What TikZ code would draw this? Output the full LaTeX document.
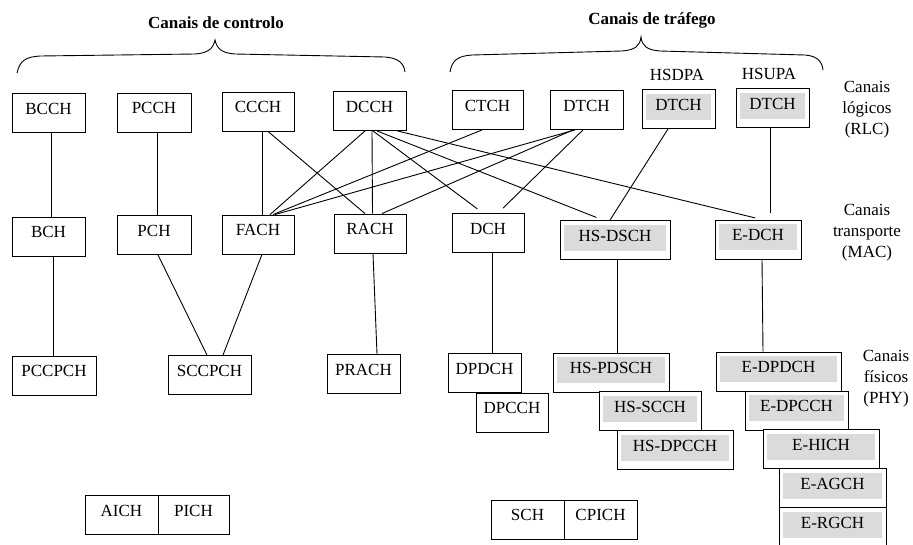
\documentclass[tikz,border=0pt]{standalone}
\usepackage{fontspec}
\setmainfont{Liberation Serif}

\begin{document}
\begin{tikzpicture}[x=1pt,y=-1pt,
    font=\fontsize{17}{21}\selectfont,
    box/.style={draw, fill=white, line width=0.9pt, inner sep=0pt, minimum height=39pt, text depth=9pt},
    shaded/.style={box, path picture={\fill[gray!28] ([xshift=4pt,yshift=9pt]path picture bounding box.south west) rectangle ([xshift=-4pt,yshift=-4pt]path picture bounding box.north east);}},
    link/.style={line width=0.9pt},
    gap/.style={link, shorten >=7pt}]
            \useasboundingbox (0,0) rectangle (913,544);

            %Shape: Brace (controlo)
            \draw [line width=0.9pt] (17,73) .. controls (20,60) and (26,57) .. (40,56) -- (195,54) .. controls (208,53) and (213,49) .. (215,40) .. controls (217,49) and (222,53) .. (235,54) -- (385,57) .. controls (398,58) and (404,63) .. (405,72) ;
            %Shape: Brace (trafego)
            \draw [line width=0.9pt] (450,72) .. controls (452,60) and (458,56) .. (472,55) -- (622,51) .. controls (635,50) and (640,46) .. (641,37) .. controls (642,46) and (647,50) .. (660,51) -- (805,55) .. controls (818,56) and (822,62) .. (823,70) ;

            % Text Node
            \node [font=\fontsize{17}{21}\selectfont\bfseries] (tctrl) at (216,23) {Canais de controlo};
            % Text Node
            \node [font=\fontsize{17}{21}\selectfont\bfseries] (ttraf) at (652,20) {Canais de tráfego};
            % Text Node
            \node (thsdpa) at (677,75) {HSDPA};
            % Text Node
            \node (thsupa) at (769,74) {HSUPA};
            % Text Node
            \node [align=center] (trlc) at (867,110) {Canais\\lógicos\\(RLC)};
            % Text Node
            \node [align=center] (tmac) at (867,233) {Canais\\transporte\\(MAC)};
            % Text Node
            \node [align=center] (tphy) at (886,379) {Canais\\físicos\\(PHY)};

            % logical channels
            \node [box, minimum width=73pt] (bcch) at (48.5,113) {BCCH};
            \node [box, minimum width=74pt] (pcch) at (154,112.5) {PCCH};
            \node [box, minimum width=72pt] (ccch) at (258,111.5) {CCCH};
            \node [box, minimum width=73pt] (dcch) at (369.5,111) {DCCH};
            \node [box, minimum width=71pt] (ctch) at (487.5,110) {CTCH};
            \node [box, minimum width=73pt] (dtch) at (586.5,110) {DTCH};
            \node [shaded, minimum width=73pt] (dtcha) at (678.5,109) {DTCH};
            \node [shaded, minimum width=73pt] (dtchb) at (772.5,108) {DTCH};

            % transport channels
            \node [box, minimum width=73pt] (bch) at (48.5,236.5) {BCH};
            \node [box, minimum width=74pt] (pch) at (154,235) {PCH};
            \node [box, minimum width=72pt] (fach) at (258,234.5) {FACH};
            \node [box, minimum width=72pt] (rach) at (370,233.5) {RACH};
            \node [box, minimum width=72pt] (dch) at (488,233) {DCH};
            \node [shaded, minimum width=110pt] (hsdsch) at (615,240) {HS-DSCH};
            \node [shaded, minimum width=86pt] (edch) at (758,239.5) {E-DCH};

            % physical channels
            \node [box, minimum width=84pt] (pccpch) at (54,375.5) {PCCPCH};
            \node [box, minimum width=83pt] (sccpch) at (209.5,375) {SCCPCH};
            \node [box, minimum width=73pt] (prach) at (363.5,374) {PRACH};
            \node [box, minimum width=73pt] (dpdch) at (484.5,373) {DPDCH};
            \node [box, minimum width=72pt] (dpcch) at (512,412.5) {DPCCH};
            \node [shaded, minimum width=116pt] (hspdsch) at (611,372.5) {HS-PDSCH};
            \node [shaded, minimum width=102pt] (hsscch) at (650,411) {HS-SCCH};
            \node [shaded, minimum width=116pt] (hsdpcch) at (675,450) {HS-DPCCH};
            \node [shaded, minimum width=125pt] (edpdch) at (778.5,371.5) {E-DPDCH};
            \node [shaded, minimum width=103pt] (edpcch) at (796.5,410.5) {E-DPCCH};
            \node [shaded, minimum width=116pt] (ehich) at (821,449) {E-HICH};
            \node [shaded, minimum width=107pt] (eagch) at (832.5,488) {E-AGCH};
            \node [shaded, minimum width=107pt] (ergch) at (832.5,527) {E-RGCH};
            \node [box, minimum width=73pt] (aich) at (121.5,515) {AICH};
            \node [box, minimum width=71pt] (pich) at (193.5,515) {PICH};
            \node [box, minimum width=73pt] (sch) at (527.5,519.5) {SCH};
            \node [box, minimum width=73pt] (cpich) at (600.5,519.5) {CPICH};

            %Straight Lines (logical - transport)
            \draw [link] ([xshift=3pt]bcch.south) -- ([xshift=3pt]bch.north) ;
            \draw [link] ([xshift=3pt]pcch.south) -- ([xshift=3pt]pch.north) ;
            \draw [link] ([xshift=4pt]ccch.south) -- ([xshift=4pt]fach.north) ;
            \draw [link] ([xshift=10pt]ccch.south) -- ([xshift=-5pt]rach.north) ;
            \draw [link] ([xshift=-4.5pt]dcch.south) -- ([xshift=12pt]fach.north) ;
            \draw [link] ([xshift=2.5pt]dcch.south) -- ([xshift=2.5pt]rach.north) ;
            \draw [gap] ([xshift=3.5pt]dcch.south) -- ([xshift=-5pt]dch.north) ;
            \draw [gap] ([xshift=7.5pt]dcch.south) -- ([xshift=-12pt]hsdsch.north) ;
            \draw [gap] ([xshift=28pt]dcch.south) -- ([xshift=4pt]edch.north) ;
            \draw [link] ([xshift=-5.5pt]ctch.south) -- ([xshift=15pt]fach.north) ;
            \draw [link] ([xshift=-11.5pt]dtch.south) -- ([xshift=17pt]fach.north) ;
            \draw [link] ([xshift=-13.5pt]dtch.south) -- ([xshift=12pt]rach.north) ;
            \draw [gap] ([xshift=-3.5pt]dtch.south) -- ([xshift=10pt]dch.north) ;
            \draw [link] ([xshift=-10.5pt]dtcha.south) -- ([xshift=-5pt]hsdsch.north) ;
            \draw [gap] ([xshift=-2.5pt]dtchb.south) -- ([xshift=12pt]edch.north) ;

            %Straight Lines (transport - physical)
            \draw [link] ([xshift=4.5pt]bch.south) -- ([xshift=-1pt]pccpch.north) ;
            \draw [link] ([xshift=4pt]pch.south) -- ([xshift=-2.5pt]sccpch.north) ;
            \draw [link] ([xshift=4pt]fach.south) -- ([xshift=13.5pt]sccpch.north) ;
            \draw [link] ([xshift=3pt]rach.south) -- ([xshift=13.5pt]prach.north) ;
            \draw [link] ([xshift=4pt]dch.south) -- ([xshift=7.5pt]dpdch.north) ;
            \draw [link] ([xshift=2pt]hsdsch.south) -- ([xshift=6pt]hspdsch.north) ;
            \draw [link] ([xshift=4pt]edch.south) -- ([xshift=-15.5pt]edpdch.north) ;
        \end{tikzpicture}
\end{document}
